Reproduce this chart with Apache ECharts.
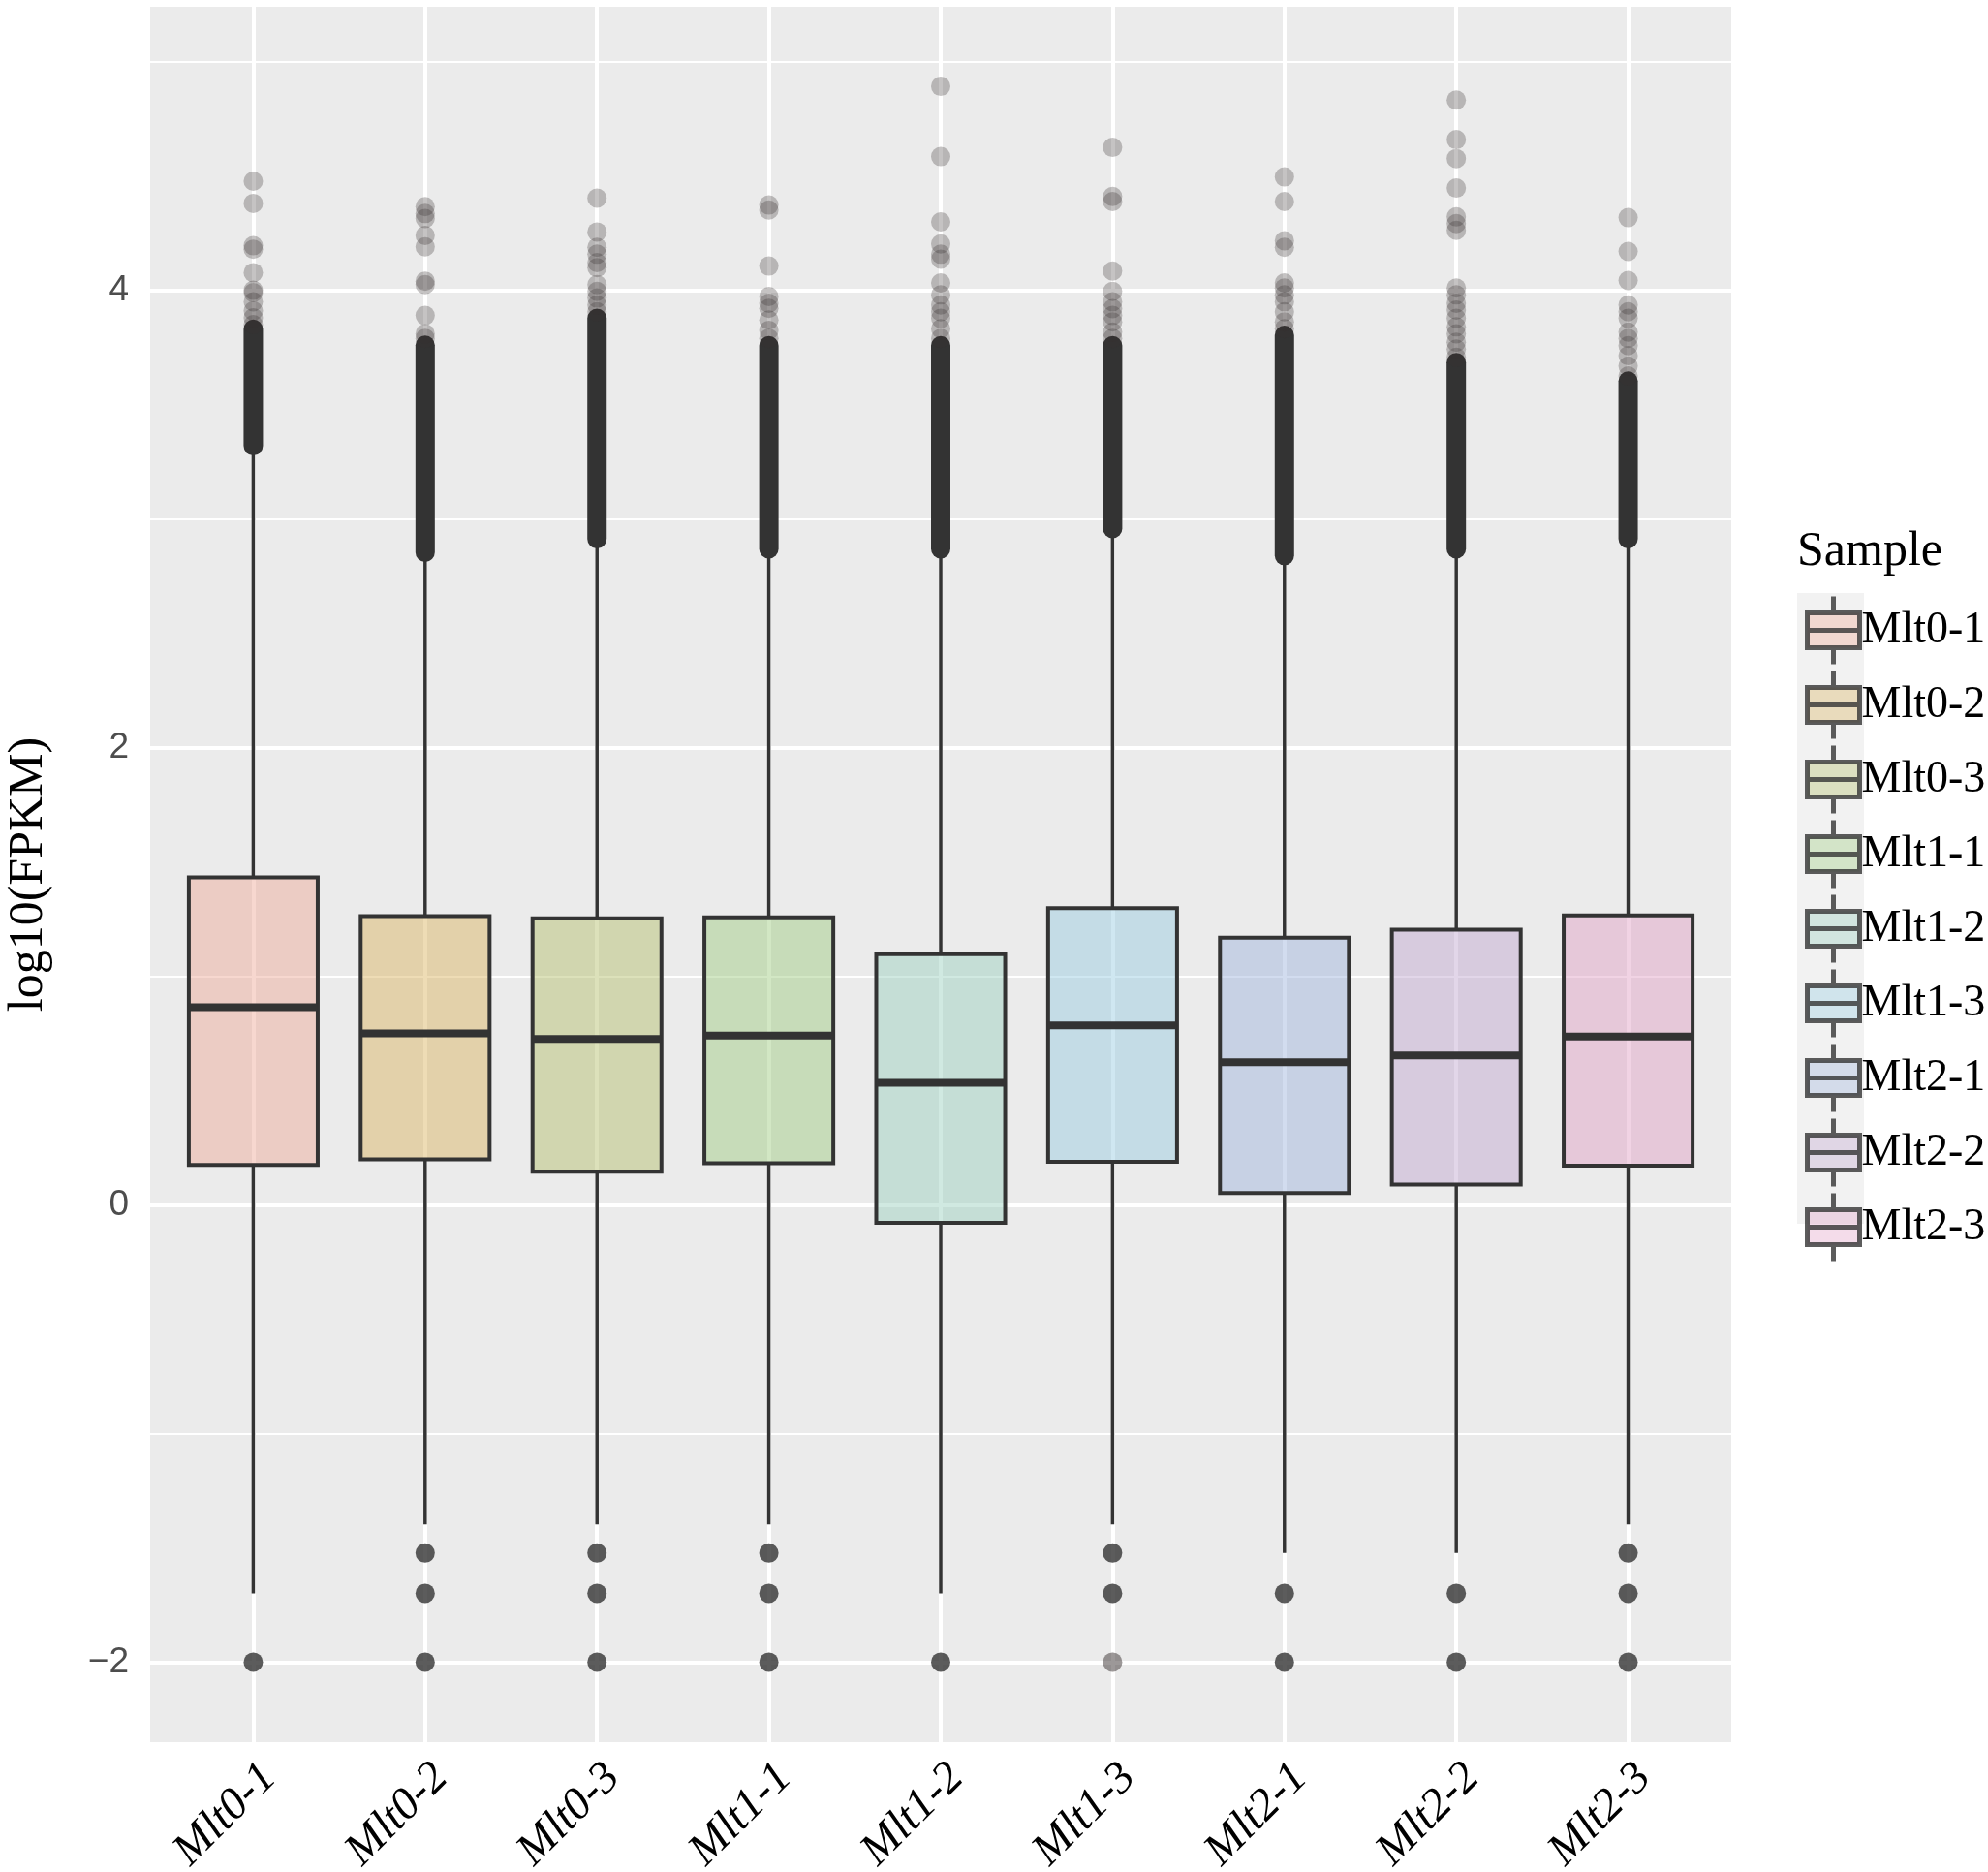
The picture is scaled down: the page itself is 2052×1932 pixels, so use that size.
<!DOCTYPE html>
<html>
<head>
<meta charset="utf-8">
<script src="https://cdn.jsdelivr.net/npm/echarts@6/dist/echarts.min.js"></script>
<style>
  html, body { margin: 0; padding: 0; background: #fff; }
  #main { width: 2052px; height: 1932px; }
</style>
</head>
<body>
<div id="main"></div>
<script>
/* log10(FPKM) boxplots per sample */
var samples = ['Mlt0-1', 'Mlt0-2', 'Mlt0-3', 'Mlt1-1', 'Mlt1-2', 'Mlt1-3', 'Mlt2-1', 'Mlt2-2', 'Mlt2-3'];

var whiskerLow = [-1.699, -1.398, -1.398, -1.398, -1.699, -1.398, -1.523, -1.523, -1.398];
var q1 = [0.175, 0.199, 0.145, 0.182, -0.079, 0.189, 0.052, 0.089, 0.171];
var median = [0.864, 0.75, 0.726, 0.74, 0.534, 0.785, 0.624, 0.654, 0.736];
var q3 = [1.432, 1.263, 1.253, 1.258, 1.096, 1.298, 1.168, 1.203, 1.266];
var whiskerHigh = [3.30, 2.84, 2.90, 2.85, 2.85, 2.94, 2.83, 2.86, 2.89];

// upper outliers packed so tight they form a solid column: [bottom, top]
var denseLow = [3.32, 2.854, 2.913, 2.869, 2.869, 2.958, 2.84, 2.869, 2.913];
var denseHigh = [3.83, 3.76, 3.877, 3.758, 3.758, 3.758, 3.803, 3.684, 3.603];

// single (semi-transparent) outliers
var sparseOutliers = [
  [4.477, 4.38, 4.195, 4.18, 4.077, 4.0, 3.99, 3.95, 3.91, 3.88, 3.85],
  [4.366, 4.336, 4.314, 4.24, 4.19, 4.04, 4.025, 3.89, 3.81, 3.79],
  [4.403, 4.255, 4.188, 4.158, 4.121, 4.099, 4.025, 3.995, 3.966, 3.936, 3.906],
  [4.373, 4.351, 4.106, 3.973, 3.943, 3.921, 3.87, 3.825, 3.79],
  [4.892, 4.585, 4.299, 4.203, 4.158, 4.136, 4.032, 3.98, 3.936, 3.906, 3.877, 3.832, 3.79],
  [4.625, 4.41, 4.388, 4.084, 3.995, 3.95, 3.92, 3.89, 3.862, 3.817, 3.79, -2, -2],
  [4.496, 4.388, 4.217, 4.188, 4.032, 4.01, 3.98, 3.95, 3.906, 3.862, 3.832],
  [4.832, 4.659, 4.576, 4.447, 4.321, 4.292, 4.262, 4.01, 3.98, 3.943, 3.914, 3.877, 3.84, 3.81, 3.773, 3.743, 3.707],
  [4.318, 4.17, 4.043, 3.936, 3.906, 3.877, 3.817, 3.79, 3.758, 3.714, 3.669, 3.625]
];

// low outliers (many genes stacked on the same value, drawn solid)
var lowOutliers = [
  [-2],
  [-1.523, -1.699, -2],
  [-1.523, -1.699, -2],
  [-1.523, -1.699, -2],
  [-2],
  [-1.523, -1.699],
  [-1.699, -2],
  [-1.699, -2],
  [-1.523, -1.699, -2]
];

var yMajor = [-2, 0, 2, 4];
var yMinor = [-1, 1, 3, 5];
var xPos = samples.map(function (s, i) { return i; });

var fills = [
  'rgba(237,166,148,0.45)', 'rgba(217,177,91,0.45)', 'rgba(177,188,102,0.45)',
  'rgba(155,202,124,0.45)', 'rgba(151,206,188,0.45)', 'rgba(148,202,224,0.45)',
  'rgba(155,177,219,0.45)', 'rgba(191,164,206,0.45)', 'rgba(224,157,196,0.45)'
];

var boxData = samples.map(function (s, i) {
  return [i, whiskerLow[i], q1[i], median[i], q3[i], whiskerHigh[i]];
});
var denseData = samples.map(function (s, i) {
  return [i, denseLow[i], denseHigh[i]];
});
var sparseData = [];
sparseOutliers.forEach(function (arr, i) {
  arr.forEach(function (v) { sparseData.push([i, v]); });
});
var lowData = [];
lowOutliers.forEach(function (arr, i) {
  arr.forEach(function (v) { lowData.push([i, v]); });
});

var gridLines = [];
yMajor.forEach(function (v) {
  gridLines.push({ yAxis: v, lineStyle: { color: '#fff', width: 4, type: 'solid' } });
});
yMinor.forEach(function (v) {
  gridLines.push({ yAxis: v, lineStyle: { color: '#fff', width: 2, type: 'solid' } });
});
xPos.forEach(function (i) {
  gridLines.push({ xAxis: i, lineStyle: { color: '#fff', width: 4, type: 'solid' } });
});

function renderBox(params, api) {
  var x = api.value(0);
  var lo = api.coord([x, api.value(1)]);
  var b = api.coord([x, api.value(2)]);
  var m = api.coord([x, api.value(3)]);
  var t = api.coord([x, api.value(4)]);
  var hi = api.coord([x, api.value(5)]);
  var half = api.size([1, 0])[0] * 0.375;
  var line = { stroke: '#333', lineWidth: 3.5 };
  return {
    type: 'group',
    children: [
      { type: 'line', shape: { x1: lo[0], y1: lo[1], x2: b[0], y2: b[1] }, style: line },
      { type: 'line', shape: { x1: t[0], y1: t[1], x2: hi[0], y2: hi[1] }, style: line },
      { type: 'rect', shape: { x: t[0] - half, y: t[1], width: half * 2, height: b[1] - t[1] },
        style: { fill: fills[params.dataIndex], stroke: '#333', lineWidth: 4 } },
      { type: 'line', shape: { x1: m[0] - half, y1: m[1], x2: m[0] + half, y2: m[1] },
        style: { stroke: '#333', lineWidth: 8 } }
    ]
  };
}

function renderDense(params, api) {
  var a = api.coord([api.value(0), api.value(1)]);
  var b = api.coord([api.value(0), api.value(2)]);
  return {
    type: 'line',
    shape: { x1: a[0], y1: a[1], x2: b[0], y2: b[1] },
    style: { stroke: '#333', lineWidth: 20, lineCap: 'round' }
  };
}

var legendIcon = 'path://M0,17L54,17L54,53L0,53ZM0,35L54,35M27,0L27,17M27,53L27,70';

var series = [
  {
    type: 'scatter', data: [], z: 1, silent: true,
    markLine: { z: 1, silent: true, symbol: ['none', 'none'], label: { show: false }, data: gridLines }
  },
  { type: 'custom', name: 'box', renderItem: renderBox, data: boxData, z: 3 },
  { type: 'custom', name: 'dense', renderItem: renderDense, data: denseData, z: 4 },
  { type: 'scatter', name: 'out', data: sparseData, symbolSize: 20, z: 5,
    itemStyle: { color: 'rgba(56,48,48,0.36)' } },
  { type: 'scatter', name: 'low', data: lowData, symbolSize: 20, z: 5,
    itemStyle: { color: '#333' } }
];
samples.forEach(function (s, i) {
  series.push({ type: 'scatter', name: s, data: [], itemStyle: { color: fills[i] } });
});

var myChart = echarts.init(document.getElementById('main'));
var option = {
  animation: false,
  backgroundColor: '#fff',
  title: {
    text: 'Sample',
    left: 1850,
    top: 540,
    textStyle: { fontFamily: 'Liberation Serif', fontWeight: 'normal', fontSize: 50, color: '#000' }
  },
  graphic: [
    { type: 'rect', left: 1855, top: 612, shape: { width: 69, height: 651 }, style: { fill: '#F2F2F2' }, z: 0 }
  ],
  legend: {
    data: samples,
    orient: 'vertical',
    left: 1858,
    top: 608,
    itemWidth: 54,
    itemHeight: 70,
    itemGap: 2,
    icon: legendIcon,
    itemStyle: { borderColor: '#333', borderWidth: 5 },
    textStyle: { fontFamily: 'Liberation Serif', fontSize: 46, color: '#000', padding: [0, 0, 0, -3] },
    selectedMode: false
  },
  grid: {
    left: 155,
    right: 265,
    top: 7,
    bottom: 134,
    outerBoundsMode: 'none',
    show: true,
    backgroundColor: '#EBEBEB',
    borderWidth: 0
  },
  xAxis: {
    type: 'value',
    min: -0.6,
    max: 8.6,
    axisLine: { show: false },
    axisTick: { show: true, customValues: xPos, length: 12, lineStyle: { color: '#333', width: 3.5 } },
    axisLabel: {
      customValues: xPos,
      rotate: 45,
      margin: 13,
      align: 'right',
      verticalAlign: 'top',
      fontFamily: 'Liberation Serif',
      fontStyle: 'italic',
      fontSize: 47,
      color: '#000',
      formatter: function (v) { return samples[v]; }
    },
    splitLine: { show: false }
  },
  yAxis: {
    type: 'value',
    min: -2.35,
    max: 5.24,
    name: 'log10(FPKM)',
    nameLocation: 'middle',
    nameGap: 100,
    nameTextStyle: { fontFamily: 'Liberation Serif', fontSize: 50, color: '#000' },
    axisLine: { show: false },
    axisTick: { show: true, customValues: yMajor, length: 12, lineStyle: { color: '#333', width: 3.5 } },
    axisLabel: {
      customValues: yMajor,
      margin: 22,
      fontFamily: 'Liberation Sans',
      fontSize: 37,
      color: '#4D4D4D',
      formatter: function (v) { return String(v).replace('-', '\u2212'); }
    },
    splitLine: { show: false }
  },
  series: series
};

myChart.setOption(option);
window.onresize = function () {
  myChart.resize();
};
</script>
</body>
</html>
